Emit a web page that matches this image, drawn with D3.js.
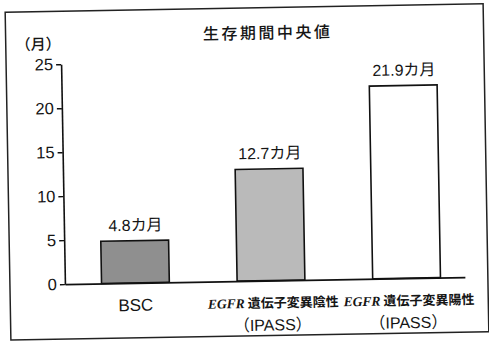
<!DOCTYPE html>
<html>
<head>
<meta charset="utf-8">
<script src="https://cdn.jsdelivr.net/npm/d3@7"></script>
<style>
  html, body { margin: 0; padding: 0; background: #fff; }
  svg { display: block; }
  text { fill: #151515; }
</style>
</head>
<body>
<svg id="chart" width="489" height="344"></svg>
<script>
const categories = ["BSC", "EGFR遺伝子変異陰性（IPASS）", "EGFR遺伝子変異陽性（IPASS）"];
const labelItalic = ["", "EGFR", "EGFR"];
const labelLine1 = ["BSC", "遺伝子変異陰性", "遺伝子変異陽性"];
const labelLine2 = ["", "（IPASS）", "（IPASS）"];
const values = [4.8, 12.7, 21.9];
const valueLabels = ["4.8カ月", "12.7カ月", "21.9カ月"];
const barColors = ["#8f8f8f", "#bababa", "#ffffff"];
const yTicks = [0, 5, 10, 15, 20, 25];
const titleText = "生存期間中央値";
const unitText = "（月）";

const sans = "'Liberation Sans', Arial, 'Noto Sans CJK JP', sans-serif";
const cjk = "'Noto Sans CJK JP', 'Liberation Sans', sans-serif";

const svg = d3.select("#chart");
svg.append("rect").attr("width", 489).attr("height", 344).attr("fill", "#fff");

const g = svg.append("g").attr("transform", "rotate(-1 245 172)");

// frame
g.append("rect")
  .attr("x", 8).attr("y", 8).attr("width", 478).attr("height", 328)
  .attr("fill", "none").attr("stroke", "#222").attr("stroke-width", 1.5);

const x = d3.scaleBand()
  .domain(categories)
  .range([63, 463])
  .paddingInner(0.5)
  .paddingOuter(0.225)
  .align(0.6);

const y = d3.scaleLinear().domain([0, 25]).range([281, 61]);

// bars
g.selectAll("rect.bar")
  .data(values)
  .join("rect")
  .attr("class", "bar")
  .attr("x", (d, i) => x(categories[i]))
  .attr("width", x.bandwidth())
  .attr("y", d => y(d))
  .attr("height", d => y(0) - y(d))
  .attr("fill", (d, i) => barColors[i])
  .attr("stroke", "#111")
  .attr("stroke-width", 1.6);

// value labels
g.selectAll("text.val")
  .data(values)
  .join("text")
  .attr("class", "val")
  .attr("x", (d, i) => x(categories[i]) + x.bandwidth() / 2 + 1)
  .attr("y", d => y(d) - 10)
  .attr("text-anchor", "middle")
  .style("font-family", sans)
  .style("font-size", "16px")
  .text((d, i) => valueLabels[i]);

// y axis
const yAxis = g.append("g")
  .attr("transform", `translate(${x.range()[0]},0)`)
  .call(d3.axisLeft(y).tickValues(yTicks).tickSize(5).tickSizeOuter(0).tickPadding(3));
yAxis.select(".domain").attr("stroke", "#111").attr("stroke-width", 1.6);
yAxis.selectAll(".tick line").attr("stroke", "#111").attr("stroke-width", 1.4);
yAxis.selectAll(".tick text")
  .style("font-family", sans).style("font-size", "16.5px").attr("fill", "#151515");

// x axis
const xAxis = g.append("g")
  .attr("transform", `translate(0,${y(0)})`)
  .call(d3.axisBottom(x).tickSize(0).tickSizeOuter(0).tickFormat(""));
xAxis.select(".domain").attr("stroke", "#111").attr("stroke-width", 1.6);

xAxis.selectAll(".tick").each(function(d, i) {
  const t = d3.select(this);
  t.select("text").remove();
  if (labelItalic[i] === "") {
    t.append("text")
      .attr("x", 0).attr("y", 28)
      .attr("text-anchor", "middle")
      .style("font-family", sans).style("font-size", "17px")
      .attr("fill", "#151515")
      .text(labelLine1[i]);
  } else {
    const l1 = t.append("text")
      .attr("x", 2).attr("y", 27)
      .attr("text-anchor", "middle")
      .attr("fill", "#151515");
    l1.append("tspan")
      .style("font-family", "'Liberation Serif', 'DejaVu Serif', serif")
      .style("font-style", "italic")
      .style("font-weight", "bold")
      .style("font-size", "13.5px")
      .text(labelItalic[i]);
    l1.append("tspan")
      .style("font-family", cjk)
      .style("font-weight", "bold")
      .style("font-size", "13px")
      .attr("dx", 3)
      .text(labelLine1[i]);
    t.append("text")
      .attr("x", 1).attr("y", 50)
      .attr("text-anchor", "middle")
      .style("font-family", sans).style("font-size", "16px")
      .attr("fill", "#151515")
      .text(labelLine2[i]);
  }
});

// title
g.append("text")
  .attr("x", 270).attr("y", 39)
  .attr("text-anchor", "middle")
  .style("font-family", cjk)
  .style("font-size", "16px")
  .style("font-weight", "500")
  .style("letter-spacing", "2.5px")
  .text(titleText);

// unit label
g.append("text")
  .attr("x", 18).attr("y", 46)
  .style("font-family", cjk)
  .style("font-size", "15px")
  .style("font-weight", "500")
  .text(unitText);
</script>
</body>
</html>
